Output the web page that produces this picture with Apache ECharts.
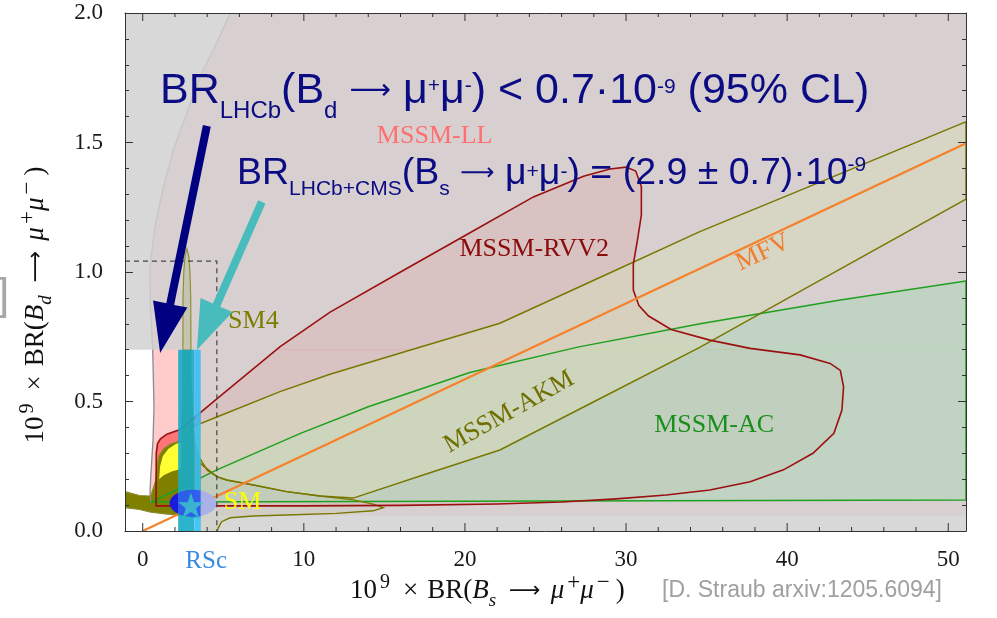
<!DOCTYPE html>
<html><head><meta charset="utf-8">
<script src="https://cdn.jsdelivr.net/npm/echarts@6/dist/echarts.min.js"></script>
<style>html,body{margin:0;padding:0;background:#fff}#c{width:997px;height:618px}</style>
</head><body><div id="c"></div>
<script>
// ---------------- data (x: 1e9*BR(Bs->mumu), y: 1e9*BR(Bd->mumu)) ----------------
const xExtent = [-1.1, 51.1];
const yExtent = [0, 2];
const xTickValues = [0, 10, 20, 30, 40, 50];
const xTickText = ['0', '10', '20', '30', '40', '50'];
const xMinorTicks = [2,4,6,8,12,14,16,18,22,24,26,28,32,34,36,38,42,44,46,48];
const rscValue = 3.94;

const greyCurve = [[5.43,2.0],[4.59,1.884],[3.55,1.753],[2.73,1.612],[1.90,1.471],[1.28,1.328],[0.76,1.174],[0.45,1.019],[0.47,0.865],[0.62,0.70],[0.70,0.479],[0.64,0.351],[0.51,0.224],[0.45,0.147],[0.51,0.108]];
const mssmLLTail = [[4.6,0.108],[4.6,0.06],[51.1,0.06],[51.1,2.0]];
const rvv2Region = [[0.83,0.097],[0.84,0.30],[0.92,0.338],[1.1,0.356],[1.5,0.374],[2.32,0.392],[4.6,0.51],[8.53,0.712],[11.63,0.845],[16.0,1.0],[20.12,1.145],[24.25,1.29],[27.36,1.37],[29.0,1.398],[30.0,1.405],[30.6,1.39],[30.95,1.33],[30.95,1.22],[30.7,1.12],[30.45,1.03],[30.45,0.93],[30.8,0.87],[31.4,0.83],[32.8,0.778],[35.2,0.737],[37.7,0.705],[40.8,0.68],[42.67,0.647],[43.3,0.62],[43.5,0.557],[43.4,0.467],[42.9,0.377],[41.6,0.30],[39.77,0.236],[37.7,0.19],[35.2,0.158],[32.5,0.139],[29.4,0.124],[26.0,0.112],[22.0,0.104],[16.0,0.099],[10.0,0.097],[5.0,0.097]];
const acRegion = [[0.56,0.112],[4.6,0.236],[9.79,0.377],[14.0,0.48],[20.3,0.612],[27.0,0.71],[34.6,0.80],[43.3,0.892],[51.1,0.965],[51.1,0.12]];
const akmRegion = [[3.0,0.40],[4.6,0.44],[8.52,0.538],[11.62,0.605],[16.0,0.687],[22.17,0.802],[28.0,0.968],[34.58,1.156],[42.0,1.346],[51.1,1.58],[51.1,1.281],[42.0,0.967],[34.6,0.71],[28.0,0.499],[22.17,0.313],[17.5,0.218],[13.06,0.127],[11.0,0.135],[8.93,0.152],[6.86,0.178],[5.21,0.197],[4.6,0.21],[3.6,0.26],[3.0,0.30]];
const sm4Core = [[-1.1,0.152],[-0.2,0.137],[0.5,0.135],[0.78,0.19],[0.88,0.25],[1.0,0.29],[1.3,0.318],[1.7,0.335],[2.4,0.35],[2.49,0.6],[2.5,0.9],[2.55,1.0],[2.62,1.06],[2.74,1.09],[2.86,1.06],[2.93,1.0],[2.98,0.9],[3.0,0.6],[3.1,0.42],[3.3,0.33],[3.55,0.28],[3.55,0.05],[2.4,0.06],[1.4,0.066],[0.5,0.073],[-0.2,0.083],[-1.1,0.09]];
const yellowCore = [[1.02,0.2],[1.08,0.25],[1.25,0.29],[1.6,0.318],[2.0,0.334],[2.4,0.345],[2.4,0.24],[1.8,0.23],[1.3,0.215]];
const sm4Lobe = [[3.55,0.28],[4.0,0.235],[4.6,0.21],[5.21,0.197],[6.86,0.178],[8.93,0.152],[11.0,0.135],[13.07,0.12],[14.3,0.104],[14.93,0.09],[14.3,0.078],[12.04,0.068],[8.93,0.062],[6.86,0.058],[5.42,0.051],[4.9,0.036],[4.69,0.012],[4.63,0.0],[3.55,0.0]];
const mfvLine = [[0,0],[51.1,1.497]];
const fogBoxes = [[[-1.1,0.7],[51.1,2.0]], [[3.6,0.0],[51.1,0.7]]];
const bandTeal = [[2.2,0.0],[3.2,0.7]];
const bandBlue = [[3.2,0.0],[3.6,0.7]];
const smEllipseCenter = [3.12, 0.107];
const smEllipseRadii = [1.45, 0.052];
const smStar = [2.99, 0.10];
const dashedBox = [[-1.1,1.042],[4.6,1.042],[4.6,0.0]];
const labelText = ['MSSM-LL','MSSM-RVV2','MFV','SM4','MSSM-AKM','MSSM-AC','SM'];
const labelAnchor = [[18.12,1.525],[24.3,1.089],[38.5,1.075],[6.87,0.811],[22.74,0.459],[35.47,0.409],[6.2,0.112]];
const labelAngle = [0,0,25,0,29,0,0];
const arrowNavy = [[3.98,1.564],[1.08,0.687]];
const arrowCyan = [[7.39,1.271],[3.36,0.699]];

// ---------------- styles ----------------
const labelColor = ['#ff6f6f','#8b0a0a','#f07d2e','#7d7d00','#6f6f00','#1b8f1b','#ffff00'];
const SERIF = '"Liberation Serif","DejaVu Serif",serif';
const SANS = '"Liberation Sans",Arial,sans-serif';
const ARROWFONT = '"DejaVu Sans",sans-serif';

function P(api, pts){ return pts.map(p => api.coord(p)); }
function poly(api, pts, style){ return {type:'polygon', shape:{points:P(api,pts)}, style}; }
function pline(api, pts, style){ return {type:'polyline', shape:{points:P(api,pts)}, style:Object.assign({fill:null}, style)}; }
function rectPts(b){ return [[b[0][0],b[0][1]],[b[1][0],b[0][1]],[b[1][0],b[1][1]],[b[0][0],b[1][1]]]; }
function ellArc(t0,t1,n){ const c=smEllipseCenter,r=smEllipseRadii,o=[]; for(let i=0;i<=n;i++){const t=t0+(t1-t0)*i/n;o.push([c[0]+r[0]*Math.cos(t),c[1]+r[1]*Math.sin(t)]);} return o; }
function arrowPoly(p0,p1,sw,hl,hw){
  const dx=p1[0]-p0[0],dy=p1[1]-p0[1],L=Math.hypot(dx,dy),ux=dx/L,uy=dy/L,nx=-uy,ny=ux;
  const bx=p1[0]-ux*hl,by=p1[1]-uy*hl;
  return [[p0[0]+nx*sw/2,p0[1]+ny*sw/2],[bx+nx*sw/2,by+ny*sw/2],[bx+nx*hw/2,by+ny*hw/2],p1,[bx-nx*hw/2,by-ny*hw/2],[bx-nx*sw/2,by-ny*sw/2],[p0[0]-nx*sw/2,p0[1]-ny*sw/2]];
}
function layer(z, clip, build){
  return {type:'custom', coordinateSystem:'cartesian2d', z, silent:true, clip, animation:false,
    data:[[0,0]], renderItem:(params, api)=>({type:'group', children:build(api)})};
}

const upperCurve = greyCurve.filter(p => p[1] >= 0.7);
const lowerCurve = greyCurve.filter(p => p[1] <= 0.7);
const bandL = bandTeal[0][0], bandR = bandBlue[1][0];
const aL = Math.acos((bandL - smEllipseCenter[0]) / smEllipseRadii[0]);
const aR = Math.acos((bandR - smEllipseCenter[0]) / smEllipseRadii[0]);
const FOG = 'rgba(209,209,209,0.84)';

const series = [
  layer(1, true, api => [poly(api, greyCurve.concat(mssmLLTail), {fill:'#ffcccc'})]),
  layer(2, true, api => [poly(api, rvv2Region, {fill:'rgba(255,0,0,0.42)'})]),
  layer(3, true, api => [poly(api, acRegion, {fill:'rgba(40,245,80,0.65)'})]),
  layer(4, true, api => [poly(api, akmRegion, {fill:'rgba(238,255,90,0.62)'})]),
  layer(5, true, api => [
    poly(api, sm4Lobe, {fill:'rgba(128,128,0,0.25)'}),
    poly(api, sm4Core, {fill:'#808000'}),
    poly(api, yellowCore, {fill:'#ffff33'})
  ]),
  layer(6, true, api => fogBoxes.map(b => poly(api, rectPts(b), {fill:FOG}))),
  layer(7, true, api => [
    pline(api, upperCurve, {stroke:'#c6c6c6', lineWidth:1.3}),
    pline(api, lowerCurve, {stroke:'#8c8c8c', lineWidth:1.3}),
    poly(api, acRegion, {fill:null, stroke:'#1ea01e', lineWidth:1.5}),
    poly(api, akmRegion, {fill:null, stroke:'#787800', lineWidth:1.5}),
    pline(api, sm4Lobe.slice(0, -1), {stroke:'#787800', lineWidth:1.4}),
    poly(api, sm4Core, {fill:null, stroke:'#8a8a30', lineWidth:1.1}),
    poly(api, rvv2Region, {fill:null, stroke:'#9b1010', lineWidth:1.6}),
    pline(api, mfvLine, {stroke:'#f5822a', lineWidth:2.2})
  ]),
  layer(8, true, api => [
    poly(api, rectPts(bandTeal), {fill:'rgba(22,172,200,0.9)'}),
    poly(api, rectPts(bandBlue), {fill:'rgba(52,190,245,0.9)'})
  ]),
  layer(9, true, api => [
    poly(api, ellArc(aL, 2*Math.PI - aL, 40), {fill:'#1b1be0'}),
    poly(api, ellArc(aR, aL, 30).concat(ellArc(2*Math.PI - aL, 2*Math.PI - aR, 30)), {fill:'rgba(45,85,240,0.9)'}),
    poly(api, ellArc(-aR, aR, 40), {fill:'#abb0e6'})
  ]),
  {type:'scatter', z:10, silent:true, animation:false, data:[smStar],
   symbol:'path://M50,0L61.8,35.4L97.6,34.5L69.1,57.3L79.4,91.2L50,71L20.6,91.2L30.9,57.3L2.4,34.5L38.2,35.4Z',
   symbolSize:[26,25], itemStyle:{color:'#3cc8c8'}},
  layer(11, true, api => [pline(api, dashedBox, {stroke:'#444', lineWidth:1.2, lineDash:[5,4]})]),
  layer(12, false, api => labelText.map((t, i) => {
    const p = api.coord(labelAnchor[i]);
    return {type:'text', x:p[0], y:p[1], rotation:labelAngle[i]*Math.PI/180,
      style:{text:t, fill:labelColor[i], font:'26px ' + SERIF, align:'center', verticalAlign:'middle'}};
  })),
  layer(13, false, api => [
    {type:'polygon', shape:{points:arrowPoly(api.coord(arrowNavy[0]), api.coord(arrowNavy[1]), 8, 50, 35)}, style:{fill:'#000080'}},
    {type:'polygon', shape:{points:arrowPoly(api.coord(arrowCyan[0]), api.coord(arrowCyan[1]), 8, 49, 35)}, style:{fill:'#48bcbc'}}
  ]),
  layer(14, false, api => {
    const els = [];
    const tick = (v, len) => {
      const b = api.coord([v, yExtent[0]]), t = api.coord([v, yExtent[1]]);
      els.push({type:'line', shape:{x1:b[0], y1:b[1], x2:b[0], y2:b[1]-len}, style:{stroke:'#333', lineWidth:1}});
      els.push({type:'line', shape:{x1:t[0], y1:t[1], x2:t[0], y2:t[1]+len}, style:{stroke:'#333', lineWidth:1}});
    };
    xTickValues.forEach(v => tick(v, 8));
    xMinorTicks.forEach(v => tick(v, 4));
    xTickValues.forEach((v, i) => {
      const b = api.coord([v, yExtent[0]]);
      els.push({type:'text', x:b[0], y:b[1]+29, style:{text:xTickText[i], fill:'#1a1a1a', font:'23px ' + SERIF, align:'center', verticalAlign:'middle'}});
    });
    const r = api.coord([rscValue, yExtent[0]]);
    els.push({type:'text', x:r[0], y:r[1]+30, style:{text:'RSc', fill:'#3a8be0', font:'25px ' + SERIF, align:'center', verticalAlign:'middle'}});
    return els;
  })
];

function titleRich(sub){
  const ink = '#111';
  return {
    text: '{n|10}{sp|9}{x|×}{nb|BR(}{i|B}{sb|' + sub + '}{ar|⟶}{ia|μ}{sq|+}{i|μ}{sq|−}{cp|)}',
    rich: {
      n:{fontFamily:SERIF, fontSize:27, lineHeight:40, fill:ink, verticalAlign:'middle'},
      x:{fontFamily:SERIF, fontSize:27, lineHeight:40, fill:ink, verticalAlign:'middle', padding:[0,0,0,13]},
      nb:{fontFamily:SERIF, fontSize:27, lineHeight:40, fill:ink, verticalAlign:'middle', padding:[0,0,0,9]},
      cp:{fontFamily:SERIF, fontSize:27, lineHeight:40, fill:ink, verticalAlign:'middle', padding:[0,0,0,6]},
      i:{fontFamily:SERIF, fontSize:27, fontStyle:'italic', lineHeight:40, fill:ink, verticalAlign:'middle'},
      ia:{fontFamily:SERIF, fontSize:27, fontStyle:'italic', lineHeight:40, fill:ink, verticalAlign:'middle', padding:[0,0,0,10]},
      ar:{fontFamily:ARROWFONT, fontSize:22, lineHeight:40, fill:ink, verticalAlign:'middle', padding:[0,0,0,13]},
      sp:{fontFamily:SERIF, fontSize:20, lineHeight:20, fill:ink, verticalAlign:'top', padding:[2,0,0,3]},
      sq:{fontFamily:SERIF, fontSize:23, lineHeight:23, fill:ink, verticalAlign:'top', padding:[0,0,0,3]},
      sb:{fontFamily:SERIF, fontSize:19, fontStyle:'italic', lineHeight:19, fill:ink, verticalAlign:'top', padding:[20,0,0,0]}
    }
  };
}
function bigRich(main, subSize, arrowSize, lh, pSub, pA, pB){
  const base = {fontFamily:SANS, fill:'#0b0b83', color:'#0b0b83'};
  return {
    m:Object.assign({fontSize:main, lineHeight:lh, verticalAlign:'middle'}, base),
    ar:{fontFamily:ARROWFONT, fontSize:arrowSize, lineHeight:lh, verticalAlign:'middle', fill:'#0b0b83'},
    sb:Object.assign({fontSize:subSize, lineHeight:subSize, verticalAlign:'top', padding:[pSub,0,0,0]}, base),
    spA:Object.assign({fontSize:21, lineHeight:21, verticalAlign:'top', padding:[pA,0,0,0]}, base),
    spB:Object.assign({fontSize:21, lineHeight:21, verticalAlign:'top', padding:[pB,0,0,0]}, base)
  };
}

const option = {
  animation:false,
  backgroundColor:'#ffffff',
  grid:{left:125, right:31, top:13, bottom:87, show:true, backgroundColor:'#ffffff', borderWidth:0},
  xAxis:[
    {type:'value', min:xExtent[0], max:xExtent[1], position:'bottom', z:50,
     axisLine:{show:true, onZero:false, lineStyle:{color:'#333', width:1}}, axisTick:{show:false}, axisLabel:{show:false}, splitLine:{show:false}},
    {type:'value', min:xExtent[0], max:xExtent[1], position:'top', z:50,
     axisLine:{show:true, onZero:false, lineStyle:{color:'#333', width:1}}, axisTick:{show:false}, axisLabel:{show:false}, splitLine:{show:false}}
  ],
  yAxis:[
    {type:'value', min:yExtent[0], max:yExtent[1], interval:0.5, position:'left', z:50,
     axisLine:{show:true, onZero:false, lineStyle:{color:'#333', width:1}},
     axisTick:{show:true, inside:true, length:8, lineStyle:{color:'#333'}},
     minorTick:{show:true, splitNumber:5, length:4, lineStyle:{color:'#333'}},
     axisLabel:{formatter:v => v.toFixed(1), fontFamily:SERIF, fontSize:23, color:'#1a1a1a', margin:22},
     splitLine:{show:false}, minorSplitLine:{show:false}},
    {type:'value', min:yExtent[0], max:yExtent[1], interval:0.5, position:'right', z:50,
     axisLine:{show:true, onZero:false, lineStyle:{color:'#333', width:1}},
     axisTick:{show:true, inside:true, length:8, lineStyle:{color:'#333'}},
     minorTick:{show:true, splitNumber:5, length:4, lineStyle:{color:'#333'}},
     axisLabel:{show:false}, splitLine:{show:false}, minorSplitLine:{show:false}}
  ],
  series,
  graphic:[
    {type:'text', x:350, y:571, z:100, style:Object.assign({align:'left', verticalAlign:'top'}, titleRich('s'))},
    {type:'text', x:36, y:305, z:100, rotation:Math.PI/2, style:Object.assign({align:'center', verticalAlign:'middle'}, titleRich('d'))},
    {type:'text', x:160, y:58.5, z:100, style:{align:'left', verticalAlign:'top',
      text:'{m|BR}{sb|LHCb}{m|(B}{sb|d}{m| }{ar|⟶}{m| μ}{spA|+}{m|μ}{spA|-}{m|) < 0.7·10}{spB|-9}{m| (95% CL)}',
      rich:bigRich(43, 24, 29, 66, 41.2, 17.7, 18.7)}},
    {type:'text', x:237, y:145.6, z:100, style:{align:'left', verticalAlign:'top',
      text:'{m|BR}{sb|LHCb+CMS}{m|(B}{sb|s}{m| }{ar|⟶}{m| μ}{spA|+}{m|μ}{spA|-}{m|) = (2.9 ± 0.7)·10}{spB|-9}',
      rich:bigRich(37.5, 21, 24, 56, 33, 16, 9.3)}},
    {type:'text', x:662, y:591, z:100, style:{text:'[D. Straub arxiv:1205.6094]', fill:'#a0a0a0', font:'23px ' + SANS, align:'left', verticalAlign:'middle'}},
    {type:'text', x:-3, y:297, z:100, style:{text:']', fill:'#a8a8a8', font:'44px ' + SANS, align:'left', verticalAlign:'middle'}}
  ]
};

const chart = echarts.init(document.getElementById('c'), null, {renderer:'canvas'});
chart.setOption(option);
</script>
</body></html>
